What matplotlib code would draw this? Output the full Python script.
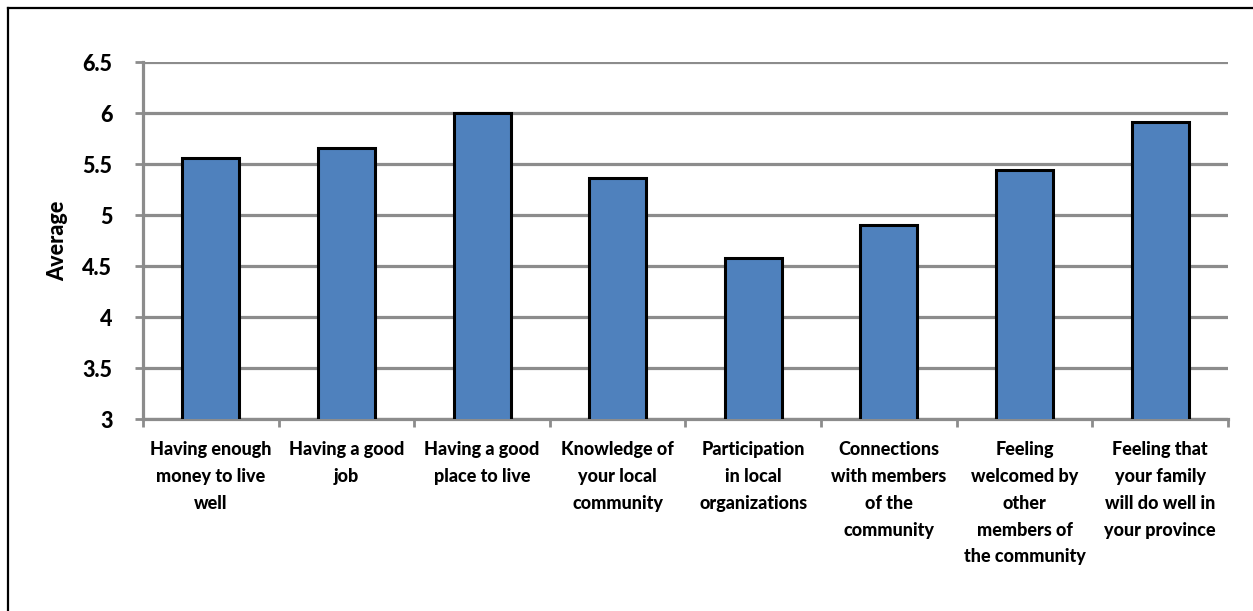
import matplotlib
matplotlib.use("Agg")
import matplotlib.pyplot as plt
import numpy as np
from matplotlib.lines import Line2D

categories = [
    "Having enough\nmoney to live\nwell",
    "Having a good\njob",
    "Having a good\nplace to live",
    "Knowledge of\nyour local\ncommunity",
    "Participation\nin local\norganizations",
    "Connections\nwith members\nof the\ncommunity",
    "Feeling\nwelcomed by\nother\nmembers of\nthe community",
    "Feeling that\nyour family\nwill do well in\nyour province",
]
averages = [5.56, 5.66, 6.0, 5.36, 4.58, 4.90, 5.44, 5.91]
y_ticks = [3, 3.5, 4, 4.5, 5, 5.5, 6, 6.5]
y_labels = ["3", "3.5", "4", "4.5", "5", "5.5", "6", "6.5"]

plt.rcParams['font.family'] = ['Lato', 'DejaVu Sans']
grid_col = '#8c8c8c'

fig = plt.figure(figsize=(12.53, 6.11), dpi=100)
ax = fig.add_axes([0.1141, 0.3142, 0.8659, 0.5843])

x = np.arange(len(categories))
ax.bar(x, averages, width=0.42, color='#4f81bd', edgecolor='black', linewidth=2.2, zorder=3)

ax.set_xlim(-0.5, len(categories) - 0.5)
ax.set_ylim(3, 6.5)
ax.set_yticks(y_ticks)
ax.set_yticklabels(y_labels, fontsize=15.5, fontweight=900)
ax.yaxis.grid(True, color=grid_col, linewidth=2.3, zorder=0)

ax.set_xticks(x)
ax.set_xticklabels(categories, fontsize=13, fontweight=900, linespacing=1.7, va='top')
ax.tick_params(axis='x', length=0, pad=16)
ax.set_xticks(np.arange(-0.5, len(categories)), minor=True)
ax.tick_params(axis='x', which='minor', length=6, width=2, color=grid_col, direction='out')
ax.tick_params(axis='y', length=6, width=2, color=grid_col, pad=16)

for side in ['top', 'right']:
    ax.spines[side].set_visible(False)
for side in ['left', 'bottom']:
    ax.spines[side].set_color(grid_col)
    ax.spines[side].set_linewidth(2.3)

ax.set_ylabel("Average", fontsize=15.5, fontweight=900, labelpad=10)

# chart area border (left and top edges visible)
fig.add_artist(Line2D([8 / 1253, 8 / 1253], [1 - 8 / 611, 0], color='black', linewidth=1.6, transform=fig.transFigure))
fig.add_artist(Line2D([8 / 1253, 1], [1 - 8 / 611, 1 - 8 / 611], color='black', linewidth=1.6, transform=fig.transFigure))

fig.savefig("out.png", dpi=100)
